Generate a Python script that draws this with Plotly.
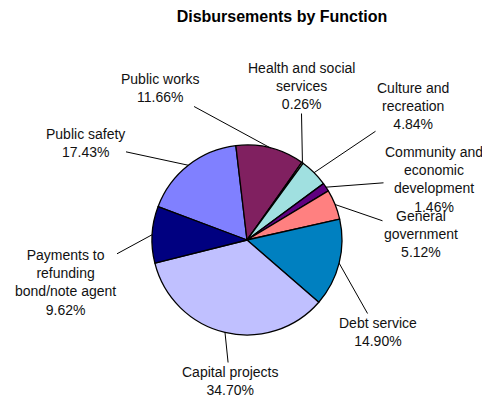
import math
import plotly.graph_objects as go

# ---- data ----
categories = ["Public safety", "Public works", "Health and social services",
              "Culture and recreation", "Community and economic development",
              "General government", "Debt service", "Capital projects",
              "Payments to refunding bond/note agent"]
label_text = ["Public safety", "Public works", "Health and social<br>services",
              "Culture and<br>recreation", "Community and<br>economic<br>development",
              "General<br>government", "Debt service", "Capital projects",
              "Payments to<br>refunding<br>bond/note agent"]
values = [17.43, 11.66, 0.26, 4.84, 1.46, 5.12, 14.90, 34.70, 9.62]
colors = ["#8080FF", "#802060", "#FFFFC0", "#A0E0E0", "#600080",
          "#FF8080", "#0080C0", "#C0C0FF", "#000080"]

# ---- layout ----
OFF = 8                               # page body margin
W, H = 490 - OFF, 400 - OFF
CX, CY, RAD = 247 - OFF, 240 - OFF, 95   # pie centre / radius in pixels
ROT = 290.5                           # start angle of first slice
# label centres in (window) pixels
label_pos = [(85, 143), (160, 88), (301, 86), (413, 106), (434, 179),
             (421, 234), (378, 332), (230, 381), (65, 282)]

fig = go.Figure(go.Pie(
    labels=categories, values=values, sort=False, direction="clockwise",
    rotation=ROT, textinfo="none", hoverinfo="label+percent",
    marker=dict(colors=colors, line=dict(color="black", width=1.3)),
    domain=dict(x=[(CX - RAD) / W, (CX + RAD) / W],
                y=[1 - (CY + RAD) / H, 1 - (CY - RAD) / H]),
    showlegend=False,
))

total = sum(values)
cum = 0.0
annotations = []
for i, v in enumerate(values):
    mid = math.radians(ROT + 360.0 * (cum + v / 2) / total)
    cum += v
    ex = CX + RAD * math.sin(mid)
    ey = CY - RAD * math.cos(mid)
    lx, ly = label_pos[i][0] - OFF, label_pos[i][1] - OFF
    annotations.append(dict(
        x=ex / W, y=1 - ey / H, xref="paper", yref="paper",
        ax=lx - ex, ay=ly - ey,
        text=f"{label_text[i]}<br>{v:.2f}%", align="center",
        showarrow=True, arrowhead=0, arrowwidth=1, arrowcolor="black",
        font=dict(family="Liberation Sans, Arial", size=14, color="#111"),
        borderpad=1,
    ))

fig.update_layout(
    width=W, height=H, autosize=False,
    margin=dict(l=0, r=0, t=0, b=0),
    paper_bgcolor="white", plot_bgcolor="white",
    title=dict(text="<b>Disbursements by Function</b>", x=(282 - OFF) / W,
               xanchor="center", y=1 - (16 - OFF) / H, yanchor="middle",
               yref="container",
               font=dict(family="Liberation Sans, Arial", size=16, color="black")),
    annotations=annotations,
)

fig.write_html("out.html")
